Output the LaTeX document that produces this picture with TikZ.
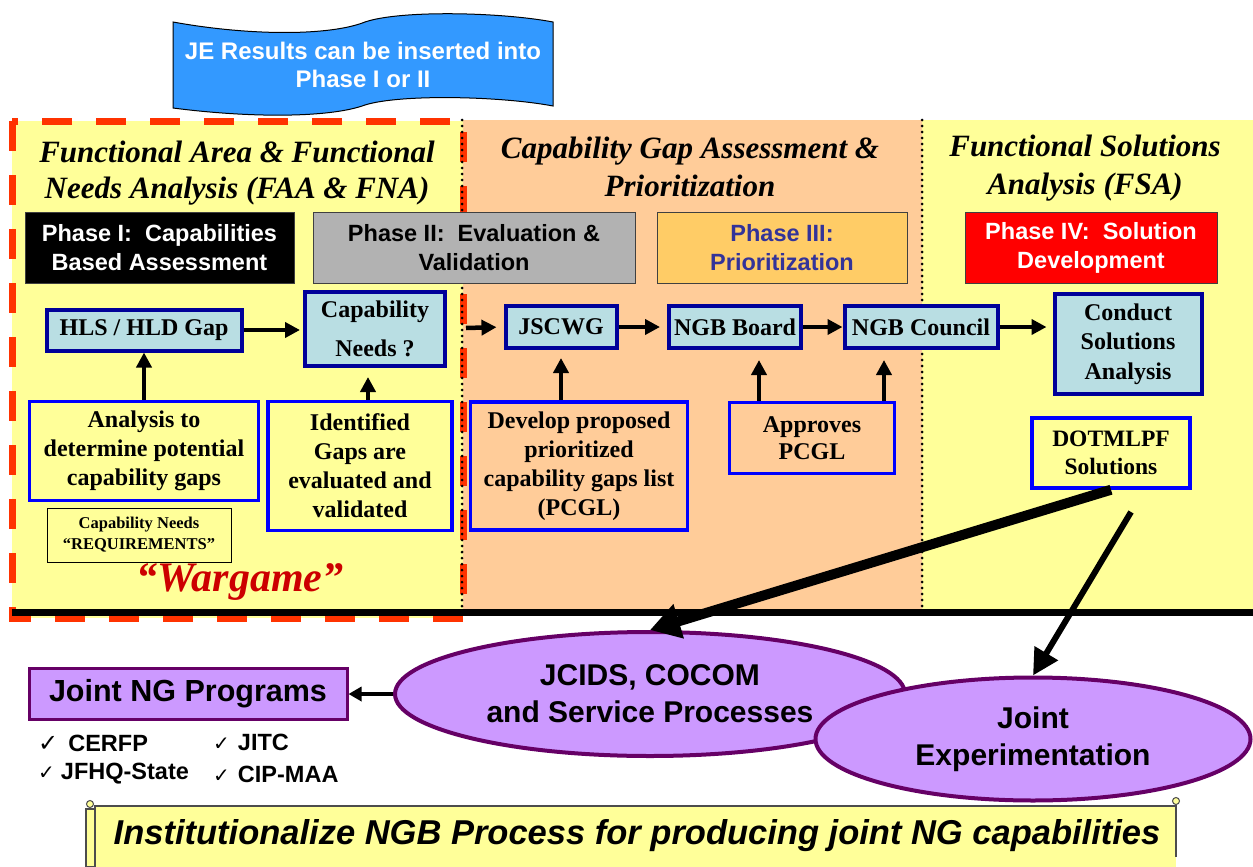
\documentclass[tikz,border=0pt]{standalone}
\usepackage{fontspec}
\setmainfont{Liberation Serif}
\setsansfont{Liberation Sans}
\newfontfamily\dejavu{DejaVu Sans}
\usetikzlibrary{arrows.meta,shapes.geometric,calc}
\definecolor{bgyellow}{HTML}{FFFF99}
\definecolor{peach}{HTML}{FFCC99}
\definecolor{lblue}{HTML}{B9DEE3}
\definecolor{navyb}{HTML}{000099}
\definecolor{redd}{HTML}{FF3300}
\definecolor{phthree}{HTML}{FFCC66}
\definecolor{phthreetext}{HTML}{333399}
\definecolor{purp}{HTML}{CC99FF}
\definecolor{purpd}{HTML}{660066}
\definecolor{bannerblue}{HTML}{3399FF}
\definecolor{wred}{HTML}{CC0000}
\definecolor{phgray}{HTML}{B2B2B2}
\newcommand{\myfs}[2]{\fontsize{#1}{#2}\selectfont}
\tikzset{
  titletext/.style={font=\myfs{31}{36}\bfseries\itshape, align=center},
  phase/.style={draw=black!75, line width=1pt, font=\sffamily\bfseries\myfs{23.5}{29}, align=center, inner sep=0pt},
  proc/.style={fill=lblue, draw=navyb, line width=4pt, font=\bfseries\myfs{24}{29.5}, align=center, inner sep=0pt},
  note/.style={draw=blue, line width=3.5pt, font=\bfseries\myfs{24}{29}, align=center, inner sep=0pt},
  arr/.style={line width=4.5pt, -{Triangle[length=15pt,width=15pt]}},
  oval/.style={ellipse, fill=purp, draw=purpd, line width=4pt, font=\sffamily\bfseries\myfs{30}{37}, align=center, inner sep=0pt},
  dotline/.style={line width=3pt, dash pattern=on 0pt off 6pt, line cap=round},
  item/.style={font=\sffamily\bfseries\myfs{23.5}{27}, inner sep=0pt, anchor=west}
}
\begin{document}
\begin{tikzpicture}[x=1pt,y=-1pt]
\useasboundingbox (0,0) rectangle (1253,867);
% backgrounds
\fill[bgyellow] (12,121) rectangle (463,618);
\fill[peach] (463,120) rectangle (922,609);
\fill[bgyellow] (922,120) rectangle (1253,609);
\draw[redd, line width=7pt, dash pattern=on 30pt off 24pt] (12,121) rectangle (463,618);
\draw[dotline] (462,120) -- (462,608);
\draw[dotline] (922,120) -- (922,608);
\draw[line width=7pt] (12,612) -- (1253,612);
% banner
\draw[fill=bannerblue, line width=1pt] (173,22) .. controls (250,36) and (330,36) .. (365,22)
  .. controls (400,10) and (500,12) .. (553,22) -- (553,106)
  .. controls (500,96) and (400,94) .. (365,105)
  .. controls (330,118) and (250,118) .. (173,108) -- cycle;
\node[font=\sffamily\bfseries\myfs{24}{28}, text=white, align=center] (ban) at (363,65) {JE Results can be inserted into\\Phase I or II};
% titles
\node[titletext] (t1) at (237,173) {Functional Area \& Functional\\Needs Analysis (FAA \& FNA)};
\node[titletext, font=\myfs{31}{38}\bfseries\itshape] (t2) at (690,167) {Capability Gap Assessment \&\\Prioritization};
\node[titletext, font=\myfs{31}{38}\bfseries\itshape] (t3) at (1085,168) {Functional Solutions\\Analysis (FSA)};
% phases
\node[phase, fill=black, text=white, minimum width=269pt, minimum height=71pt] (p1) at (159.5,247.5) {Phase I:\ \ Capabilities\\Based Assessment};
\node[phase, fill=phgray, minimum width=322pt, minimum height=71pt] (p2) at (474,247.5) {Phase II:\ \ Evaluation \&\\Validation};
\node[phase, fill=phthree, text=phthreetext, minimum width=250pt, minimum height=71pt] (p3) at (782,247.5) {Phase III:\\Prioritization};
\node[phase, fill=red, text=white, minimum width=252pt, minimum height=71pt] (p4) at (1091,247.5) {Phase IV:\ \ Solution\\Development};
% process boxes
\node[proc, minimum width=195pt, minimum height=41pt] (hls) at (144,330) {HLS / HLD Gap};
\node[proc, minimum width=140pt, minimum height=74pt, font=\bfseries\myfs{24}{39}] (capn) at (375,329) {Capability\\Needs ?};
\node[proc, minimum width=111pt, minimum height=42pt] (jscwg) at (561,327) {JSCWG};
\node[proc, minimum width=132pt, minimum height=42pt] (board) at (735,327) {NGB Board};
\node[proc, minimum width=153pt, minimum height=42pt] (council) at (921,327) {NGB Council};
\node[proc, minimum width=147pt, minimum height=100pt] (conduct) at (1128,344) {\raisebox{-3pt}{Conduct}\\\raisebox{-3pt}{Solutions}\\\raisebox{-3pt}{Analysis}};
% notes
\node[note, minimum width=229pt, minimum height=99pt] (anal) at (144,451) {\raisebox{-4pt}{Analysis to}\\\raisebox{-4pt}{determine potential}\\\raisebox{-4pt}{capability gaps}};
\node[note, minimum width=184pt, minimum height=129pt] (ident) at (360,466) {Identified\\Gaps are\\evaluated and\\validated};
\node[note, minimum width=217pt, minimum height=128pt] (dev) at (579,466) {\raisebox{-4pt}{Develop proposed}\\\raisebox{-4pt}{prioritized}\\\raisebox{-4pt}{capability gaps list}\\\raisebox{-4pt}{(PCGL)}};
\node[note, minimum width=165pt, minimum height=71pt, font=\bfseries\myfs{24}{27}] (appr) at (812,438) {Approves\\PCGL};
\node[note, minimum width=158pt, minimum height=70pt, font=\bfseries\myfs{23.5}{28}] (dot) at (1111,453) {DOTMLPF\\Solutions};
\node[draw=black, line width=1pt, minimum width=184pt, minimum height=54pt, align=center, inner sep=0pt, font=\bfseries\myfs{16.5}{21}] (req) at (139,535) {Capability Needs\\“REQUIREMENTS”};
\node[font=\myfs{42}{48}\bfseries\itshape, text=wred] (wg) at (240,582) {“Wargame”};
% ovals and bottom
\node[oval, minimum width=510pt, minimum height=124pt] (jcids) at (650,694) {JCIDS, COCOM\\and Service Processes};
\node[oval, minimum width=435pt, minimum height=123pt] (je) at (1033,739) {\raisebox{-6pt}{Joint}\\\raisebox{-6pt}{Experimentation}};
\node[fill=purp, draw=purpd, line width=3pt, minimum width=318pt, minimum height=51pt, inner sep=0pt, font=\sffamily\bfseries\myfs{30.5}{36}] (jng) at (188,694) {Joint NG Programs};
\node[item] (i1) at (38,743) {{\dejavu\myfs{24}{27}✓}\hspace{10pt}CERFP};
\node[item] (i2) at (38,774) {{\dejavu\myfs{20}{27}✓}\hspace{6pt}JFHQ-State};
\node[item] (i3) at (213,742) {{\dejavu\myfs{20}{27}✓}\hspace{8pt}JITC};
\node[item] (i4) at (213,774) {{\dejavu\myfs{20}{27}✓}\hspace{8pt}CIP-MAA};
% scroll
\fill[bgyellow] (95,806) rectangle (1176,867);
\draw[black!70, line width=1.2pt] (95,867) -- (95,806) -- (1176,806) -- (1176,857);
\draw[black!70, line width=1.2pt, fill=bgyellow] (86,809) rectangle (95,867);
\draw[black!70, line width=1pt, fill=bgyellow] (90,804) circle (3.5pt);
\draw[black!70, line width=1pt, fill=bgyellow] (1176,801) circle (3.5pt);
\node[font=\sffamily\bfseries\itshape\myfs{34.5}{40}] (scroll) at (637,836) {Institutionalize NGB Process for producing joint NG capabilities};
% connectors
\coordinate (pin) at (466,328);
\coordinate (dstart) at (1131,512);
\draw[arr, shorten >=3pt] (hls.east) -- (capn.west |- hls.east);
\draw[arr] (anal.north) -- (hls.south);
\draw[arr, shorten >=9pt] ([xshift=8pt]ident.north) -- ([xshift=-7pt]capn.south);
\draw[arr, shorten >=7pt] (pin) -- (jscwg.west);
\draw[arr, shorten >=7pt] (jscwg.east) -- (board.west);
\draw[arr] (board.east) -- (council.west);
\draw[arr, shorten >=6pt] (council.east) -- (conduct.west |- council.east);
\draw[arr, shorten >=8pt] (dev.north -| jscwg.south) -- (jscwg.south);
\draw[arr, shorten >=10pt] ([xshift=-53pt]appr.north) -- ([xshift=24pt]board.south);
\draw[arr, shorten >=10pt] ([xshift=72pt]appr.north) -- ([xshift=-37pt]council.south);
\draw[line width=10pt, -{Triangle[length=30pt,width=34pt]}] (dot.south) -- (jcids.north);
\draw[line width=6pt, -{Triangle[length=26pt,width=26pt]}] (dstart) -- (je.north);
\draw[line width=3.5pt, -{Triangle[length=13pt,width=14pt]}] (jcids.west) -- (jng.east);
\end{tikzpicture}
\end{document}
